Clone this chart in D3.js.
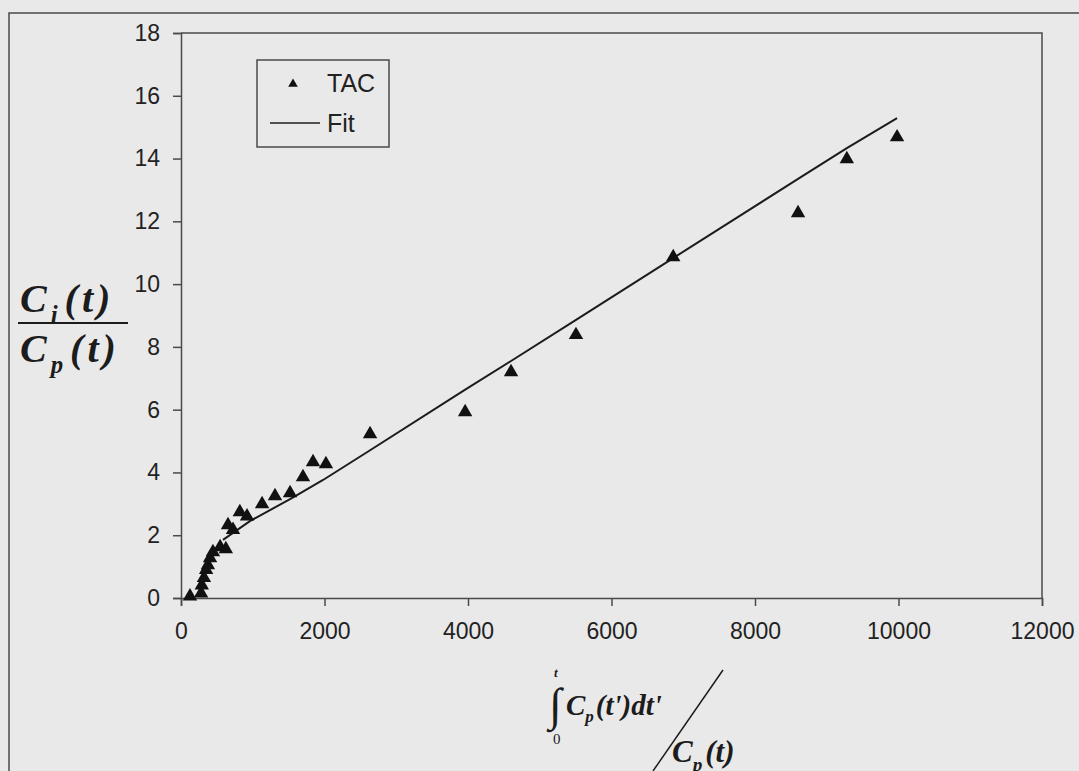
<!DOCTYPE html>
<html>
<head>
<meta charset="utf-8">
<script src="https://cdn.jsdelivr.net/npm/d3@7"></script>
<style>
  body { margin: 0; background: #e9e9e9; }
  div.chart { width: 1079px; height: 771px; }
</style>
</head>
<body>
<div class="chart"></div>
<script>

//measured TAC points (x = integral Cp / Cp, y = Ci / Cp)
var tacX = [125, 280, 290, 320, 350, 375, 405, 445, 545, 625, 655, 725, 820, 920,
            1130, 1310, 1520, 1700, 1840, 2020, 2635, 3960, 4600, 5505, 6860, 8600, 9280, 9980];
var tacY = [0.05, 0.15, 0.4, 0.64, 0.9, 1.05, 1.27, 1.46, 1.62, 1.56, 2.32, 2.17, 2.74, 2.6,
            2.99, 3.25, 3.34, 3.85, 4.33, 4.27, 5.22, 5.92, 7.2, 8.38, 10.86, 12.26, 13.98, 14.68];

//fit line
var fitX = [585, 960, 1545, 1980, 2630, 3950, 4600, 5500, 6860, 8600, 9280, 9980];
var fitY = [1.85, 2.45, 3.18, 3.76, 4.70, 6.62, 7.55, 8.85, 10.83, 13.35, 14.33, 15.29];

var xTicks = [0, 2000, 4000, 6000, 8000, 10000, 12000];
var yTicks = [0, 2, 4, 6, 8, 10, 12, 14, 16, 18];

var legendLabels = ["TAC", "Fit"];

var w = 1079, h = 771;
var ink = "#1c1c1c", frame = "#4a4a4a";

var svg = d3.select("div.chart")
            .append("svg")
            .attr("width", w)
            .attr("height", h)
            .style("font-family", "'Liberation Sans', Arial, sans-serif");

svg.append("rect").attr("width", w).attr("height", h).attr("fill", "#e9e9e9");

//outer frame (runs off the right and bottom edge)
svg.append("path")
   .attr("d", "M9," + h + "V13H" + w)
   .attr("fill", "none")
   .attr("stroke", frame)
   .attr("stroke-width", 1.5);

//scales
var x = d3.scaleLinear().domain([0, 12000]).range([181, 1042]);
var y = d3.scaleLinear().domain([0, 18]).range([598, 33]);

//plot box
svg.append("path")
   .attr("d", "M" + x(0) + "," + y(18) + "H" + x(12000) + "V" + y(0))
   .attr("fill", "none")
   .attr("stroke", frame)
   .attr("stroke-width", 1.5);

//axes
var xAxis = svg.append("g")
               .attr("transform", "translate(0," + y(0) + ")")
               .call(d3.axisBottom(x).tickValues(xTicks).tickFormat(d3.format("d"))
                       .tickSizeOuter(0).tickSize(8).tickPadding(17));

var yAxis = svg.append("g")
               .attr("transform", "translate(" + x(0) + ",0)")
               .call(d3.axisLeft(y).tickValues(yTicks).tickFormat(d3.format("d"))
                       .tickSizeOuter(0).tickSize(8).tickPadding(13));

[xAxis, yAxis].forEach(function(a){
  a.select(".domain").attr("stroke", frame).attr("stroke-width", 1.5);
  a.selectAll(".tick line").attr("stroke", frame).attr("stroke-width", 1.5);
  a.selectAll(".tick text")
   .attr("fill", "#222")
   .style("font-size", "23px")
   .style("font-family", "'Liberation Sans', Arial, sans-serif");
});

//fit line
var line = d3.line()
             .x(function(d){ return x(d[0]); })
             .y(function(d){ return y(d[1]); });

svg.append("path")
   .datum(d3.zip(fitX, fitY))
   .attr("d", line)
   .attr("fill", "none")
   .attr("stroke", ink)
   .attr("stroke-width", 2);

//TAC triangles
var tri = d3.symbol().type(d3.symbolTriangle).size(90);

svg.selectAll(".tac")
   .data(d3.zip(tacX, tacY))
   .enter()
   .append("path")
      .attr("class", "tac")
      .attr("d", tri)
      .attr("transform", function(d){ return "translate(" + x(d[0]) + "," + y(d[1]) + ")"; })
      .attr("fill", "#111");

//legend
var legend = svg.append("g");
legend.append("rect")
      .attr("x", 257).attr("y", 60)
      .attr("width", 132).attr("height", 87)
      .attr("fill", "none")
      .attr("stroke", frame)
      .attr("stroke-width", 1.5);

legend.append("path")
      .attr("d", d3.symbol().type(d3.symbolTriangle).size(40))
      .attr("transform", "translate(293,84)")
      .attr("fill", "#111");

legend.append("line")
      .attr("x1", 270).attr("x2", 320)
      .attr("y1", 123).attr("y2", 123)
      .attr("stroke", ink)
      .attr("stroke-width", 1.5);

legend.selectAll(".lab")
      .data(legendLabels)
      .enter()
      .append("text")
         .attr("x", 327)
         .attr("y", function(d, i){ return 92 + i * 40; })
         .attr("fill", "#222")
         .style("font-size", "25px")
         .text(function(d){ return d; });

//y title: Ci(t) / Cp(t)
var serif = "'Liberation Serif', 'Times New Roman', serif";

function ratioText(g, xPos, yPos, sub, size){
  var t = g.append("text")
           .attr("x", xPos).attr("y", yPos)
           .attr("fill", ink)
           .style("font-family", serif)
           .style("font-weight", "bold")
           .style("font-style", "italic")
           .style("font-size", size + "px");
  t.append("tspan").text("C");
  t.append("tspan").attr("dy", size * 0.28).style("font-size", (size * 0.62) + "px").text(sub);
  t.append("tspan").attr("dy", -size * 0.28).attr("dx", 3).text("(t)");
  return t;
}

var yTitle = svg.append("g");
ratioText(yTitle, 20, 312, "i", 40).attr("letter-spacing", 4);
yTitle.append("line")
      .attr("x1", 18).attr("x2", 128)
      .attr("y1", 323).attr("y2", 323)
      .attr("stroke", ink).attr("stroke-width", 2);
ratioText(yTitle, 20, 362, "p", 40).attr("letter-spacing", 4);

//x title: integral of Cp / Cp(t)
var xTitle = svg.append("g");
xTitle.append("text")
      .attr("x", 549).attr("y", 720)
      .attr("fill", ink)
      .style("font-family", serif)
      .style("font-size", "46px")
      .text("\u222B");
xTitle.append("text")
      .attr("x", 554).attr("y", 677)
      .attr("fill", ink)
      .style("font-family", serif)
      .style("font-weight", "bold").style("font-style", "italic")
      .style("font-size", "13px")
      .text("t");
xTitle.append("text")
      .attr("x", 553).attr("y", 744)
      .attr("fill", ink)
      .style("font-family", serif)
      .style("font-size", "15px")
      .text("0");

var num = xTitle.append("text")
                .attr("x", 566).attr("y", 715)
                .attr("fill", ink)
                .style("font-family", serif)
                .style("font-weight", "bold").style("font-style", "italic")
                .style("font-size", "29px");
num.append("tspan").text("C");
num.append("tspan").attr("dy", 7).style("font-size", "17px").text("p");
num.append("tspan").attr("dy", -7).attr("dx", 2).text("(t')dt'");

xTitle.append("line")
      .attr("x1", 723).attr("y1", 670)
      .attr("x2", 653).attr("y2", 771)
      .attr("stroke", ink).attr("stroke-width", 1.5);

ratioText(xTitle, 672, 762, "p", 31);

</script>
</body>
</html>
